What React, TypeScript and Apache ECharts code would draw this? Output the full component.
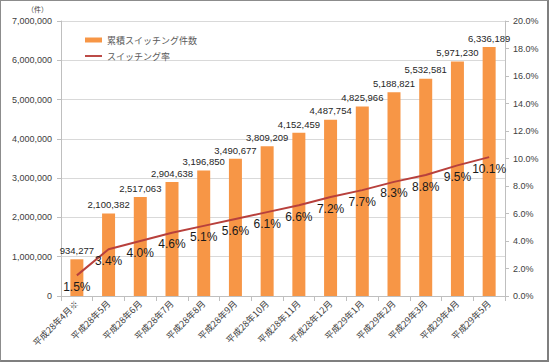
import React, { useEffect, useRef } from "react";
import * as echarts from "echarts";

const categories = [
  "平成28年4月※",
  "平成28年5月",
  "平成28年6月",
  "平成28年7月",
  "平成28年8月",
  "平成28年9月",
  "平成28年10月",
  "平成28年11月",
  "平成28年12月",
  "平成29年1月",
  "平成29年2月",
  "平成29年3月",
  "平成29年4月",
  "平成29年5月",
];

const cumulativeSwitches = [
  934277, 2100382, 2517063, 2904638, 3196850, 3490677, 3809209, 4152459,
  4487754, 4825966, 5188821, 5532581, 5971230, 6336189,
];

const switchRate = [1.5, 3.4, 4.0, 4.6, 5.1, 5.6, 6.1, 6.6, 7.2, 7.7, 8.3, 8.8, 9.5, 10.1];

const seriesNames = ["累積スイッチング件数", "スイッチング率"];
const unitLabel = "（件）";

const FONT = "'Liberation Sans', 'Noto Sans CJK JP', sans-serif";
const CJK = "'Noto Sans CJK JP', 'Liberation Sans', sans-serif";

export default function App() {
  const ref = useRef<HTMLDivElement>(null);

  useEffect(() => {
    if (!ref.current) return;
    const chart = echarts.init(ref.current, null, { renderer: "svg" });
    chart.setOption({
      animation: false,
      backgroundColor: "#ffffff",
      textStyle: { fontFamily: FONT },
      grid: { left: 61, right: 45, top: 21, bottom: 67, containLabel: false },
      legend: {
        orient: "vertical",
        left: 80,
        top: 29,
        itemWidth: 17,
        itemHeight: 5,
        itemGap: 4,
        textStyle: { fontFamily: CJK, fontSize: 9, color: "#595959", lineHeight: 12 },
        data: [
          { name: seriesNames[0], icon: "rect" },
          { name: seriesNames[1], icon: "path://M0,0h18v2h-18z", itemStyle: { color: "#b8403c" } },
        ],
      },
      graphic: [
        {
          type: "text",
          left: 27,
          top: 5,
          style: { text: unitLabel, fontFamily: CJK, fontSize: 7, fill: "#404040" },
        },
      ],
      xAxis: {
        type: "category",
        data: categories,
        boundaryGap: true,
        axisLine: { lineStyle: { color: "#bfbfbf" } },
        axisTick: { show: true, length: 5, lineStyle: { color: "#bfbfbf" } },
        axisLabel: {
          rotate: 45,
          interval: 0,
          margin: 6,
          fontSize: 9,
          fontFamily: CJK,
          color: "#404040",
        },
      },
      yAxis: [
        {
          type: "value",
          min: 0,
          max: 7000000,
          interval: 1000000,
          axisLine: { show: true, lineStyle: { color: "#bfbfbf" } },
          axisTick: { show: true, length: 4, lineStyle: { color: "#bfbfbf" } },
          splitLine: { lineStyle: { color: "#d9d9d9" } },
          axisLabel: {
            margin: 9,
            fontSize: 9,
            color: "#404040",
            formatter: (v: number) => v.toLocaleString("en-US"),
          },
        },
        {
          type: "value",
          min: 0,
          max: 20,
          interval: 2,
          position: "right",
          axisLine: { show: true, lineStyle: { color: "#bfbfbf" } },
          axisTick: { show: true, length: 4, lineStyle: { color: "#bfbfbf" } },
          splitLine: { show: false },
          axisLabel: {
            margin: 8,
            fontSize: 9,
            color: "#404040",
            formatter: (v: number) => v.toFixed(1) + "%",
          },
        },
      ],
      series: [
        {
          name: seriesNames[0],
          type: "bar",
          data: cumulativeSwitches,
          barWidth: 13,
          itemStyle: { color: "#f79646" },
          label: {
            show: true,
            position: "top",
            distance: 4,
            fontSize: 9.5,
            color: "#262626",
            formatter: (p: any) => Number(p.value).toLocaleString("en-US"),
          },
          z: 2,
        },
        {
          name: seriesNames[1],
          type: "line",
          yAxisIndex: 1,
          data: switchRate,
          symbol: "circle",
          symbolSize: 1,
          showSymbol: true,
          lineStyle: { color: "#b8403c", width: 2 },
          itemStyle: { color: "rgba(0,0,0,0)" },
          label: {
            show: true,
            position: "bottom",
            distance: 5,
            offset: [6, 0],
            fontSize: 12,
            color: "#1a1a1a",
            formatter: (p: any) => Number(p.value).toFixed(1) + "%",
          },
          labelLayout: { hideOverlap: false },
          z: 3,
        },
      ],
    });
    return () => chart.dispose();
  }, []);

  return (
    <div
      style={{
        position: "fixed",
        left: 0,
        top: 0,
        width: 550,
        height: 363,
        background: "#ffffff",
      }}
    >
      <div ref={ref} style={{ position: "absolute", left: 0, top: 0, width: 550, height: 363 }} />
      <div
        style={{
          position: "absolute",
          left: 0,
          top: 0,
          width: 549,
          height: 362,
          boxSizing: "border-box",
          borderTop: "1px solid #8c8c8c",
          borderLeft: "1px solid #8c8c8c",
          borderRight: "2px solid #7f7f7f",
          borderBottom: "2px solid #7f7f7f",
          pointerEvents: "none",
        }}
      />
    </div>
  );
}
